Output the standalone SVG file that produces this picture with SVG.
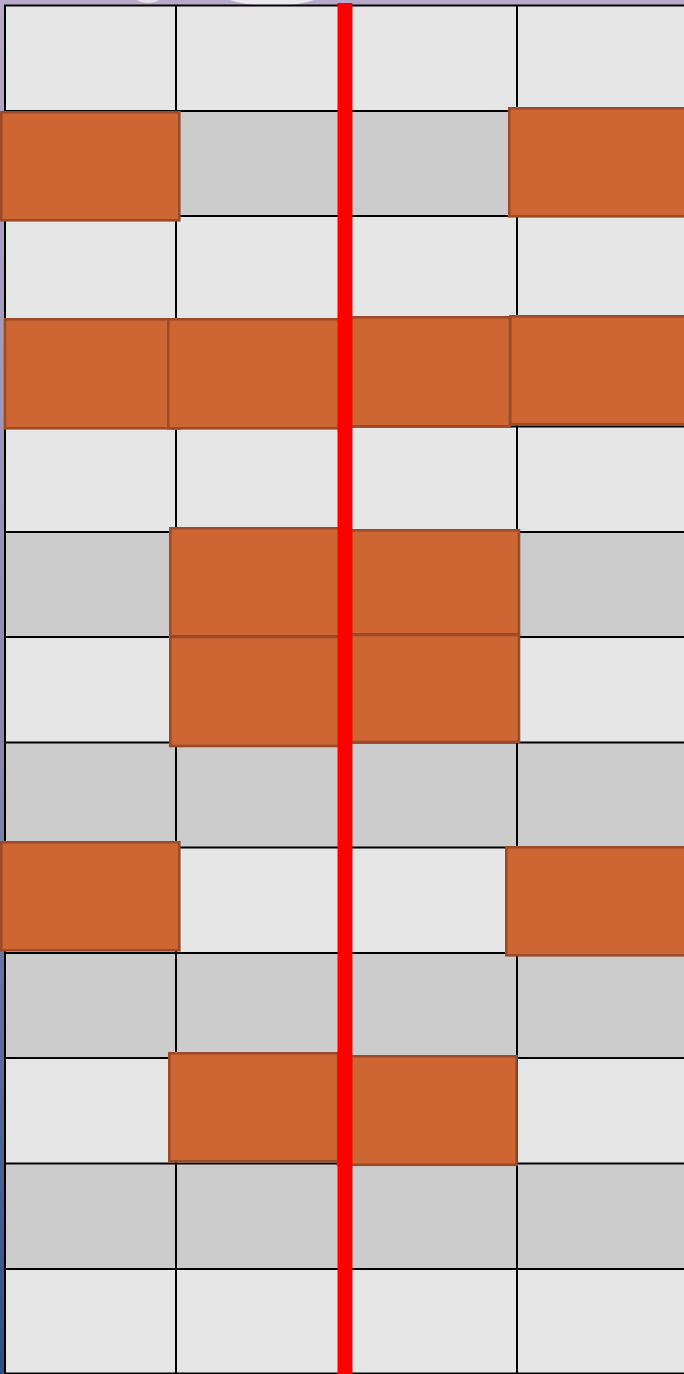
<svg xmlns="http://www.w3.org/2000/svg" width="684" height="1374" viewBox="0 0 684 1374">
<defs>
<linearGradient id="edge" x1="0" y1="0" x2="0" y2="1">
<stop offset="0" stop-color="#b8aac8"/>
<stop offset="0.55" stop-color="#8a86b0"/>
<stop offset="1" stop-color="#2b4f86"/>
</linearGradient>
<style>
.lt{fill:#e6e6e6}
.dk{fill:#cccccc}
.gl{stroke:#000;stroke-width:2;fill:none}
.blk{fill:#cd6633;stroke:#9b4b29;stroke-width:2.6}
.red{fill:#ff0000}
</style>
</defs>
<rect x="0" y="0" width="684" height="1374" fill="url(#edge)"/>
<rect x="0" y="0" width="684" height="6" fill="#b8aac8"/>
<ellipse cx="272" cy="-18" rx="64" ry="24" fill="#ebe8ef"/>
<ellipse cx="148" cy="-10" rx="18" ry="13" fill="#e4e0ea"/>
<g id="cells">
<rect class="lt" x="5" y="5.5" width="679" height="105.5"/>
<rect class="dk" x="5" y="111" width="679" height="105"/>
<rect class="lt" x="5" y="216" width="679" height="105.5"/>
<rect class="dk" x="5" y="321.5" width="679" height="105"/>
<rect class="lt" x="5" y="426.5" width="679" height="105.5"/>
<rect class="dk" x="5" y="532" width="679" height="105"/>
<rect class="lt" x="5" y="637" width="679" height="105.5"/>
<rect class="dk" x="5" y="742.5" width="679" height="105"/>
<rect class="lt" x="5" y="847.5" width="679" height="105.5"/>
<rect class="dk" x="5" y="953" width="679" height="105"/>
<rect class="lt" x="5" y="1058" width="679" height="105.5"/>
<rect class="dk" x="5" y="1163.5" width="679" height="105.5"/>
<rect class="lt" x="5" y="1269" width="679" height="105"/>
</g>
<g id="grid" class="gl">
<path d="M4 5.5H684M4 111H684M4 216H684M4 321.5H684M4 426.5H684M4 532H684M4 637H684M4 742.5H684M4 847.5H684M4 953H684M4 1058H684M4 1163.5H684M4 1269H684M4 1373.5H684"/>
<path d="M5 5V1374M176 5V1374M345 5V1374M517 5V1374"/>
</g>
<g id="b1"><rect class="blk" x="1.3" y="112.3" width="178" height="108"/></g>
<g id="b2"><rect class="blk" x="509.3" y="108.3" width="177" height="108"/></g>
<g id="b3a"><rect class="blk" x="5" y="319.3" width="175" height="109"/></g>
<g id="b3b"><rect class="blk" x="168.3" y="319.3" width="172" height="109"/></g>
<g id="b3c"><rect class="blk" x="342" y="317.3" width="168" height="109"/></g>
<g id="b3d"><rect class="blk" x="510.3" y="316.3" width="176" height="108"/></g>
<g id="b5a"><rect class="blk" x="170.3" y="528.3" width="170" height="108"/></g>
<g id="b6a"><rect class="blk" x="170.3" y="637" width="170" height="109"/></g>
<g id="b5b"><rect class="blk" x="342" y="530.3" width="177" height="104"/></g>
<g id="b6b"><rect class="blk" x="342" y="635" width="177" height="107"/></g>
<g id="b8a"><rect class="blk" x="1.3" y="842.3" width="178" height="108"/></g>
<g id="b8b"><rect class="blk" x="506.3" y="847.3" width="180" height="108"/></g>
<g id="b10a"><rect class="blk" x="169.3" y="1053.3" width="170" height="108"/></g>
<g id="b10b"><rect class="blk" x="338" y="1056.3" width="178.5" height="108.5"/></g>
<g id="redline"><rect class="red" x="337.5" y="3" width="15" height="1371"/></g>
</svg>
